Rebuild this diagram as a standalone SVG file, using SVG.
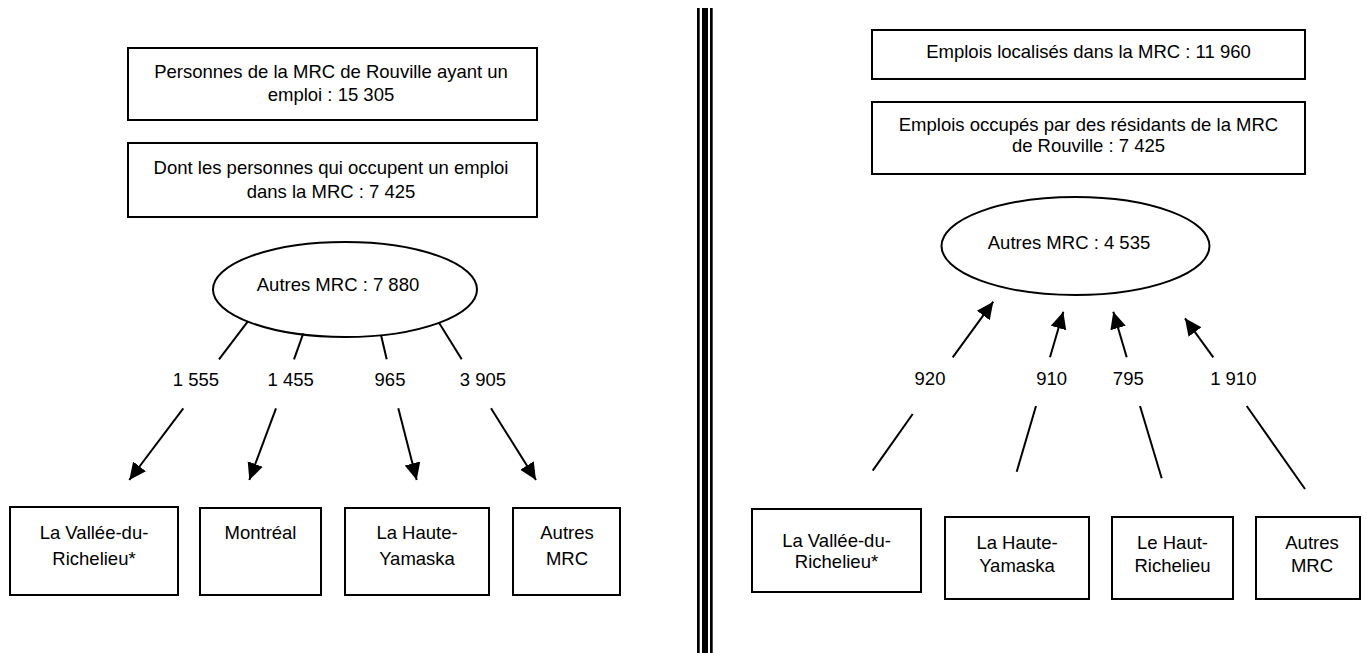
<svg xmlns="http://www.w3.org/2000/svg" width="1367" height="653" viewBox="0 0 1367 653">
<style>
.box{fill:#fff;stroke:#000;stroke-width:2}
.ell{fill:#fff;stroke:#000;stroke-width:2}
text{font-family:"Liberation Sans",Arial,sans-serif;font-size:18.5px;fill:#000;text-anchor:middle}
.ln{stroke:#000;stroke-width:2;fill:none}
.ar{stroke:#000;stroke-width:2;fill:none;marker-end:url(#ah)}
</style>
<defs>
<marker id="ah" markerUnits="userSpaceOnUse" markerWidth="18" markerHeight="18" viewBox="0 0 18 18" refX="17" refY="9" orient="auto">
<path d="M0,1 L17,9 L0,17 Z" fill="#000"/>
</marker>
</defs>
<rect x="0" y="0" width="1367" height="653" fill="#fff"/>
<g id="divider">
<rect x="697" y="8" width="2.7" height="645" fill="#000"/>
<rect x="702" y="8" width="6" height="645" fill="#000"/>
<rect x="710" y="8" width="2.7" height="645" fill="#000"/>
</g>
<g id="left-total">
<rect class="box" x="128" y="48" width="409" height="72"/>
<text x="331" y="78">Personnes de la MRC de Rouville ayant un</text>
<text x="331" y="101">emploi : 15 305</text>
</g>
<g id="left-local">
<rect class="box" x="128" y="143" width="409" height="74"/>
<text x="331" y="174">Dont les personnes qui occupent un emploi</text>
<text x="331" y="198">dans la MRC : 7 425</text>
</g>
<g id="left-autres">
<ellipse class="ell" cx="345" cy="289.5" rx="132" ry="47.5"/>
<text x="338" y="291">Autres MRC : 7 880</text>
</g>
<g id="left-vallee">
<rect class="box" x="10" y="507" width="168" height="88"/>
<text x="94" y="539">La Vallée-du-</text>
<text x="94" y="565">Richelieu*</text>
</g>
<g id="left-montreal">
<rect class="box" x="200" y="508" width="121" height="87"/>
<text x="260.5" y="539">Montréal</text>
</g>
<g id="left-yamaska">
<rect class="box" x="345" y="508" width="144" height="87"/>
<text x="417" y="539">La Haute-</text>
<text x="417" y="565">Yamaska</text>
</g>
<g id="left-autresmrc">
<rect class="box" x="513" y="508" width="107" height="87"/>
<text x="567" y="539">Autres</text>
<text x="567" y="565">MRC</text>
</g>
<g id="right-total">
<rect class="box" x="872" y="30" width="433" height="49"/>
<text x="1088.5" y="58">Emplois localisés dans la MRC : 11 960</text>
</g>
<g id="right-local">
<rect class="box" x="872" y="102" width="433" height="72"/>
<text x="1088.5" y="131">Emplois occupés par des résidants de la MRC</text>
<text x="1088.5" y="152">de Rouville : 7 425</text>
</g>
<g id="right-autres">
<ellipse class="ell" cx="1075.5" cy="246" rx="134" ry="49"/>
<text x="1069" y="249">Autres MRC : 4 535</text>
</g>
<g id="right-vallee">
<rect class="box" x="752" y="509" width="169" height="83"/>
<text x="836.5" y="547">La Vallée-du-</text>
<text x="836.5" y="568">Richelieu*</text>
</g>
<g id="right-yamaska">
<rect class="box" x="945" y="517" width="144" height="82"/>
<text x="1017" y="549">La Haute-</text>
<text x="1017" y="572">Yamaska</text>
</g>
<g id="right-richelieu">
<rect class="box" x="1112" y="517" width="121" height="82"/>
<text x="1172.5" y="549">Le Haut-</text>
<text x="1172.5" y="572">Richelieu</text>
</g>
<g id="right-autresmrc">
<rect class="box" x="1256" y="517" width="104" height="82"/>
<text x="1312" y="549">Autres</text>
<text x="1312" y="572">MRC</text>
</g>
<g id="connectors">
<line class="ln" x1="247.7" y1="321.7" x2="219" y2="359.3"/>
<line class="ln" x1="303.3" y1="333.3" x2="294" y2="359.3"/>
<line class="ln" x1="381" y1="335" x2="386.7" y2="359.3"/>
<line class="ln" x1="439" y1="322.7" x2="461.7" y2="359.3"/>
<line class="ar" x1="183.3" y1="408.3" x2="129.3" y2="480"/>
<line class="ar" x1="276" y1="408.3" x2="249.3" y2="480"/>
<line class="ar" x1="398.3" y1="408.3" x2="416.7" y2="480"/>
<line class="ar" x1="491" y1="408.3" x2="536" y2="480"/>
<text x="196" y="386">1 555</text>
<text x="290.7" y="386">1 455</text>
<text x="390" y="386">965</text>
<text x="483" y="386">3 905</text>
<line class="ar" x1="952.7" y1="357.3" x2="993.3" y2="301.7"/>
<line class="ar" x1="1050" y1="357.3" x2="1063.3" y2="311.7"/>
<line class="ar" x1="1126.7" y1="357.3" x2="1113.3" y2="311.7"/>
<line class="ar" x1="1213.3" y1="357.3" x2="1185" y2="318.3"/>
<line class="ln" x1="912.7" y1="414" x2="872.7" y2="470.7"/>
<line class="ln" x1="1036" y1="406" x2="1016.7" y2="471.7"/>
<line class="ln" x1="1140" y1="406" x2="1161.7" y2="478.3"/>
<line class="ln" x1="1246.7" y1="406" x2="1305" y2="489"/>
<text x="930" y="385">920</text>
<text x="1051.7" y="385">910</text>
<text x="1128.3" y="385">795</text>
<text x="1233.3" y="385">1 910</text>
</g>
</svg>
